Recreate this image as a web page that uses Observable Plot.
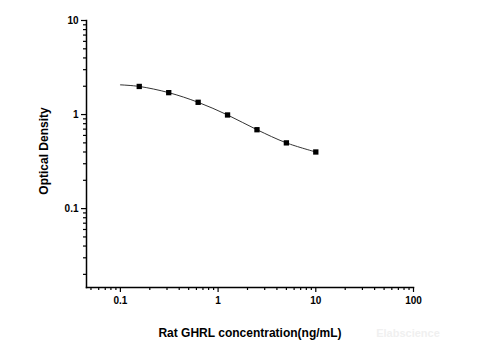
<!DOCTYPE html>
<html>
<head>
<meta charset="utf-8">
<script src="https://cdn.jsdelivr.net/npm/d3@7"></script>
<script src="https://cdn.jsdelivr.net/npm/@observablehq/plot@0.6"></script>
<style>
  html, body { margin: 0; padding: 0; background: #fff; }
  #chart { width: 480px; height: 360px; position: relative; }
</style>
</head>
<body>
<div id="chart"></div>
<script>
// Standard-curve points
const conc = [0.156, 0.3125, 0.625, 1.25, 2.5, 5, 10];
const od = [1.99, 1.71, 1.35, 0.99, 0.69, 0.50, 0.40];
// Fitted curve (starts at 0.1)
const curveConc = [0.1, 0.156, 0.3125, 0.625, 1.25, 2.5, 5, 10];
const curveOd = [2.07, 1.99, 1.71, 1.35, 0.99, 0.69, 0.50, 0.40];
// Axis ticks
const xTicks = [0.1, 1, 10, 100];
const xTickLabels = ["0.1", "1", "10", "100"];
const xMinor = [0.05, 0.06, 0.07, 0.08, 0.09, 0.2, 0.3, 0.4, 0.5, 0.6, 0.7, 0.8, 0.9,
  2, 3, 4, 5, 6, 7, 8, 9, 20, 30, 40, 50, 60, 70, 80, 90];
const yTicks = [0.1, 1, 10];
const yTickLabels = ["0.1", "1", "10"];
const yMinor = [0.02, 0.03, 0.04, 0.05, 0.06, 0.07, 0.08, 0.09, 0.2, 0.3, 0.4, 0.5, 0.6, 0.7, 0.8, 0.9,
  2, 3, 4, 5, 6, 7, 8, 9];
const xLabel = "Rat GHRL concentration(ng/mL)";
const yLabel = "Optical Density";

const points = conc.map((c, i) => ({c, od: od[i]}));
const curve = curveConc.map((c, i) => ({c, od: curveOd[i]}));
const fmtX = new Map(xTicks.map((t, i) => [t, xTickLabels[i]]));
const fmtY = new Map(yTicks.map((t, i) => [t, yTickLabels[i]]));

const plot = Plot.plot({
  width: 480,
  height: 360,
  marginLeft: 86,
  marginRight: 67,
  marginTop: 20,
  marginBottom: 73,
  style: {fontFamily: "'Liberation Sans', Arial, sans-serif", fontSize: "10px", fontWeight: "bold", color: "#000", background: "#fff"},
  x: {type: "log", domain: [0.045, 100]},
  y: {type: "log", domain: [0.0145, 10]},
  marks: [
    Plot.frame({anchor: "left", stroke: "#000", strokeWidth: 1.5}),
    Plot.frame({anchor: "bottom", stroke: "#000", strokeWidth: 1.5}),
    Plot.axisX({ticks: xMinor, tickSize: 3, text: null, label: null, strokeWidth: 1.2}),
    Plot.axisX({ticks: xTicks, tickSize: 5, tickPadding: 4, tickFormat: d => fmtX.get(d), label: null, strokeWidth: 1.2, fontSize: 10, fontWeight: "bold"}),
    Plot.axisY({ticks: yMinor, tickSize: 3, text: null, label: null, strokeWidth: 1.2}),
    Plot.axisY({ticks: yTicks, tickSize: 5, tickPadding: 3, tickFormat: d => fmtY.get(d), label: null, strokeWidth: 1.2, fontSize: 10, fontWeight: "bold"}),
    Plot.line(curve, {x: "c", y: "od", curve: "catmull-rom", stroke: "#333", strokeWidth: 1}),
    Plot.dot(points, {x: "c", y: "od", symbol: "square", r: 3, fill: "#000", stroke: "none"})
  ]
});

const svg = d3.select(plot);
svg.append("text")
  .attr("x", 250).attr("y", 337)
  .attr("text-anchor", "middle")
  .attr("font-family", "'Liberation Sans', Arial, sans-serif")
  .attr("font-size", 12).attr("font-weight", "bold").attr("fill", "#000")
  .text(xLabel);
svg.append("text")
  .attr("transform", "translate(48,151) rotate(-90)")
  .attr("text-anchor", "middle")
  .attr("font-family", "'Liberation Sans', Arial, sans-serif")
  .attr("font-size", 12).attr("font-weight", "bold").attr("fill", "#000")
  .text(yLabel);
svg.append("text")
  .attr("x", 408).attr("y", 337)
  .attr("text-anchor", "middle")
  .attr("font-family", "'Liberation Sans', Arial, sans-serif")
  .attr("font-size", 11).attr("fill", "#f0f0f0")
  .text("Elabscience");

document.getElementById("chart").appendChild(plot);
</script>
</body>
</html>
